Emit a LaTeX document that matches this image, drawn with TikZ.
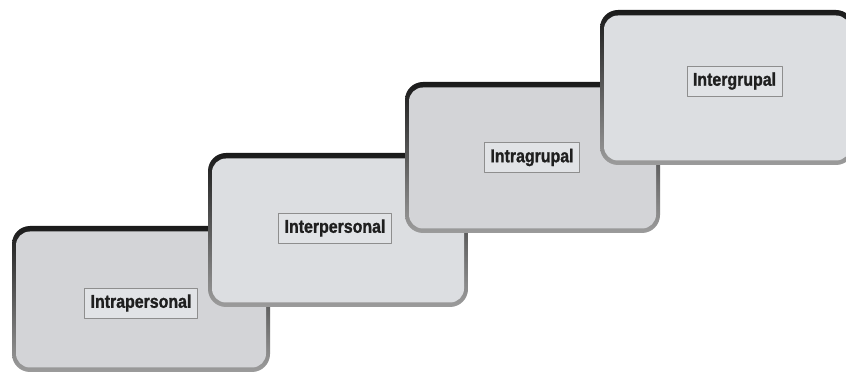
\documentclass[tikz,border=0pt]{standalone}
\usepackage{fontspec}
\setmainfont{Liberation Sans}[FakeStretch=0.86,BoldFeatures={FakeBold=1.2}]
\usepackage{tikz}
\usetikzlibrary{shapes}

\definecolor{rimtop}{HTML}{1A1A1A}
\definecolor{rimbot}{HTML}{9C9C9C}
\definecolor{facedark}{HTML}{D3D4D7}
\definecolor{facelight}{HTML}{DCDEE1}
\definecolor{tagline}{HTML}{8E8E8E}

\tikzset{
  panel/.style={rounded corners=18bp,top color=rimtop,bottom color=rimbot,draw=none,inner sep=0pt},
  face/.style={rounded corners=14bp,draw=none,inner sep=0pt},
  tag/.style={draw=tagline,line width=0.7bp,fill=white!15!facelight,inner xsep=6bp,inner ysep=0pt,
    minimum height=30bp,font=\fontsize{18.5bp}{21bp}\selectfont\bfseries,text=black!88},
}

\begin{document}
\begin{tikzpicture}[>=latex,line join=bevel,]
%%
\clip (0bp,0bp) rectangle (846bp,375bp);
\useasboundingbox (0bp,0bp) rectangle (846bp,375bp);
\fill [white] (0bp,0bp) rectangle (846bp,375bp);
%
\node (panel_0) at (141bp,76bp) [panel,minimum width=258bp,minimum height=146bp] {};
  \node (face_0) at (141bp,75.5bp) [face,fill=facedark,minimum width=250bp,minimum height=136bp] {};
  \node (tag_0) at (141bp,72bp) [tag] {Intrapersonal};
\node (panel_1) at (338bp,145bp) [panel,minimum width=260bp,minimum height=154bp] {};
  \node (face_1) at (338bp,144.5bp) [face,fill=facelight,minimum width=252bp,minimum height=144bp] {};
  \node (tag_1) at (335bp,147bp) [tag] {Interpersonal};
\node (panel_2) at (532.5bp,217.5bp) [panel,minimum width=255bp,minimum height=151bp] {};
  \node (face_2) at (532.5bp,217bp) [face,fill=facedark,minimum width=247bp,minimum height=141bp] {};
  \node (tag_2) at (532bp,217.5bp) [tag] {Intragrupal};
\node (panel_3) at (727bp,287.5bp) [panel,minimum width=254bp,minimum height=155bp] {};
  \node (face_3) at (727bp,287bp) [face,fill=facelight,minimum width=246bp,minimum height=145bp] {};
  \node (tag_3) at (734.5bp,294bp) [tag] {Intergrupal};
%
\end{tikzpicture}
\end{document}
